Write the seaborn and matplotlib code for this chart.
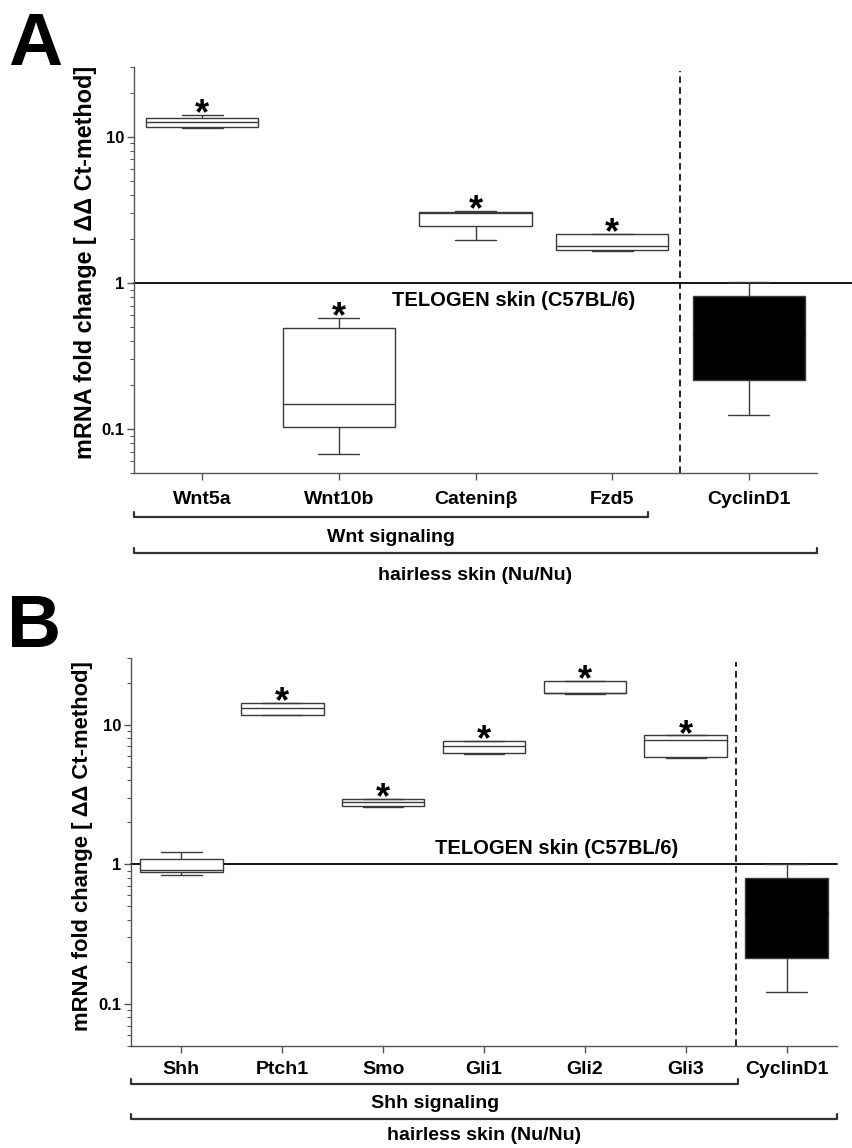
import numpy as np
import pandas as pd
import seaborn as sns
import matplotlib.pyplot as plt
from matplotlib.ticker import LogLocator, NullFormatter, FixedLocator
from matplotlib.transforms import blended_transform_factory

# panel A: Wnt signaling genes (fold change vs telogen skin)
genes_a = ["Wnt5a", "Wnt10b", "Cateninβ", "Fzd5", "CyclinD1"]
lo_a = [11.4, 0.067, 1.98, 1.66, 0.124]
q1_a = [11.6, 0.103, 2.44, 1.68, 0.215]
med_a = [12.7, 0.149, 3.00, 1.78, 0.45]
q3_a = [13.4, 0.491, 3.07, 2.17, 0.819]
hi_a = [14.0, 0.577, 3.10, 2.17, 1.02]
sig_a = [True, True, True, True, False]

# panel B: Shh signaling genes
genes_b = ["Shh", "Ptch1", "Smo", "Gli1", "Gli2", "Gli3", "CyclinD1"]
lo_b = [0.843, 11.7, 2.58, 6.20, 16.6, 5.75, 0.122]
q1_b = [0.876, 11.8, 2.60, 6.27, 16.8, 5.82, 0.213]
med_b = [0.916, 13.2, 2.79, 7.04, 16.8, 7.72, 0.45]
q3_b = [1.10, 14.3, 2.95, 7.63, 20.65, 8.41, 0.80]
hi_b = [1.22, 14.3, 2.95, 7.63, 20.65, 8.41, 1.00]
sig_b = [False, True, True, True, True, True, False]

sns.set_style("ticks")
plt.rcParams["font.family"] = ["Liberation Sans", "DejaVu Sans"]
plt.rcParams["font.weight"] = "bold"
plt.rcParams["text.color"] = "black"
plt.rcParams["axes.labelcolor"] = "black"

W, H = 852, 1148
fig = plt.figure(figsize=(W / 100, H / 100), dpi=100)


def px_rect(left, top, right, bottom):
    return [left / W, 1 - bottom / H, (right - left) / W, (bottom - top) / H]


def fy(py):
    return 1 - py / H


def draw_panel(ax, genes, lo, q1, med, q3, hi, sig, capw, group_label, group_end,
               telo_xy, rows, line_ext, ylab_y, ylab_size):
    df = pd.DataFrame({
        "gene": np.repeat(genes, 5),
        "value": np.ravel(np.column_stack([lo, q1, med, q3, hi])),
    })
    colors = {g: ("black" if g == "CyclinD1" else "white") for g in genes}
    ax.set_yscale("log")
    sns.boxplot(data=df, x="gene", y="value", hue="gene", palette=colors,
                width=0.82, whis=(0, 100), showfliers=False, legend=False,
                linecolor="#3a3a3a", linewidth=1.0, capwidths=capw, ax=ax)
    # the filled control box shows no median line
    for cont in ax.containers:
        if hasattr(cont, "medians") and len(cont.boxes):
            if tuple(cont.boxes[0].get_facecolor()[:3]) == (0.0, 0.0, 0.0):
                for m in cont.medians:
                    m.set_color("black")

    n = len(genes)
    ax.set_xlim(-0.5, n - 0.5)
    ax.set_ylim(0.05, 30)
    ax.yaxis.set_major_locator(FixedLocator([0.1, 1, 10]))
    ax.set_yticklabels(["0.1", "1", "10"])
    ax.yaxis.set_minor_locator(LogLocator(base=10, subs=np.arange(2, 10)))
    ax.yaxis.set_minor_formatter(NullFormatter())
    ax.tick_params(axis="y", which="major", length=5, width=1, color="#555555",
                   labelcolor="black", labelsize=12, pad=2)
    ax.tick_params(axis="y", which="minor", length=3, width=0.8, color="#555555")
    ax.tick_params(axis="x", length=5, width=1, color="#555555",
                   labelcolor="black", labelsize=14, pad=rows[0])
    for lab in ax.get_xticklabels() + ax.get_yticklabels():
        lab.set_fontweight("bold")
    ax.set_xlabel("")
    ax.set_ylabel("mRNA fold change [ ΔΔ Ct-method]", fontsize=ylab_size,
                  fontweight="bold", color="black")
    ax.yaxis.set_label_coords(-0.054, ylab_y)

    sns.despine(ax=ax)
    for s in ("left", "bottom"):
        ax.spines[s].set_color("#555555")
        ax.spines[s].set_linewidth(1.0)

    # reference level and separator
    ax.axhline(1, xmin=0, xmax=line_ext, color="black", lw=1.3, clip_on=False,
               zorder=1)
    ax.axvline(n - 1.5, ymin=0, ymax=0.99, color="black", lw=1.2,
               ls=(0, (4, 2.5)), zorder=1)

    # significance stars above the upper whisker
    for i, (s, top) in enumerate(zip(sig, hi)):
        if s:
            ax.annotate("*", xy=(i, top * 1.19), xytext=(0, -14.5),
                        textcoords="offset points", ha="center", va="baseline",
                        fontsize=26, fontweight="bold")

    ax.text(telo_xy[0], telo_xy[1], "TELOGEN skin (C57BL/6)", ha="center",
            va="center", fontsize=14.5, fontweight="bold")

    # group brackets below the axis
    tr = blended_transform_factory(ax.transData, fig.transFigure)
    b1, t1, b2, t2 = rows[1:]
    tick = 5 / H
    for y, x1 in ((b1, group_end), (b2, n - 0.5)):
        ax.plot([-0.5, -0.5, x1, x1], [fy(y) + tick, fy(y), fy(y), fy(y) + tick],
                transform=tr, color="#333333", lw=1.6, clip_on=False)
    ax.text((group_end - 0.5) / 2, fy(t1), group_label, transform=tr,
            ha="center", va="center", fontsize=14, fontweight="bold")
    ax.text((n - 1) / 2, fy(t2), "hairless skin (Nu/Nu)", transform=tr,
            ha="center", va="center", fontsize=14, fontweight="bold")


ax_a = fig.add_axes(px_rect(134, 67, 817, 473))
draw_panel(ax_a, genes_a, lo_a, q1_a, med_a, q3_a, hi_a, sig_a, 0.30,
           "Wnt signaling", 3.26, (2.28, 0.753), (8, 517, 537, 553, 575),
           (852 - 134) / (817 - 134), 0.52, 16.8)

ax_b = fig.add_axes(px_rect(131, 658, 837, 1046))
draw_panel(ax_b, genes_b, lo_b, q1_b, med_b, q3_b, hi_b, sig_b, 0.40,
           "Shh signaling", 5.52, (3.72, 1.29), (6, 1084, 1103, 1119, 1136),
           1.0, 0.515, 15.8)

fig.text(8 / W, fy(65), "A", fontsize=54, fontweight="bold", va="baseline")
fig.text(7 / W, fy(647), "B", fontsize=54, fontweight="bold", va="baseline")

fig.savefig("out.png", dpi=100, facecolor="white")
